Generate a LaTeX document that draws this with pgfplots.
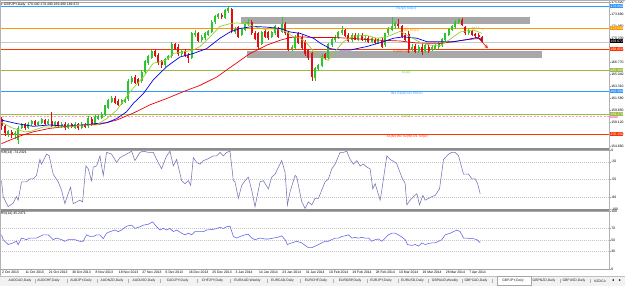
\documentclass[border=0pt]{standalone}
\usepackage{pgfplots}
\pgfplotsset{compat=1.18}
\usepackage{pgfplotstable}
\usepackage{fontspec}
\setmainfont{Liberation Sans}
\newcommand{\tf}{\fontsize{3.4}{4}\selectfont}

\definecolor{bull}{HTML}{2DC52D}
\definecolor{bear}{HTML}{DD1111}
\definecolor{fastma}{HTML}{9ACD32}
\definecolor{midma}{HTML}{0000EE}
\definecolor{slowma}{HTML}{EE0000}
\definecolor{pivblue}{HTML}{3399FF}
\definecolor{pivorange}{HTML}{FF9900}
\definecolor{pivred}{HTML}{FF3300}
\definecolor{pivgreen}{HTML}{99BB44}
\definecolor{pivpink}{HTML}{FF99CC}
\definecolor{zone}{HTML}{A8A8A8}
\definecolor{wprc}{HTML}{7373B8}
\definecolor{rsic}{HTML}{5F5FF0}
\definecolor{sepc}{HTML}{8C8C8C}

\pgfplotstableread{
i o h l c
0 158.6 158.9 157.0 157.5
1 157.5 157.7 156.1 156.5
2 156.4 157.0 155.9 156.8
3 156.7 156.9 155.8 156.2
4 156.2 156.8 155.7 156.6
5 155.5 157.5 155.0 157.3
6 157.3 158.0 157.1 157.8
7 157.8 158.0 157.0 157.3
8 157.3 158.1 157.1 157.9
9 157.8 158.4 157.6 158.2
10 158.2 158.4 157.5 157.7
11 157.7 158.3 157.5 158.1
12 158.0 158.7 157.8 158.5
13 158.4 158.6 157.7 157.9
14 157.9 158.5 157.7 158.3
15 158.3 159.5 157.4 157.6
16 157.6 158.3 157.4 158.1
17 158.1 158.3 157.3 157.5
18 157.5 158.1 157.3 157.9
19 157.9 158.1 157.0 157.3
20 157.3 158.0 157.1 157.8
21 157.8 158.0 157.2 157.4
22 157.3 158.1 157.1 157.9
23 157.8 158.0 156.9 157.2
24 157.3 158.1 157.1 157.9
25 157.8 158.0 157.2 157.4
26 157.5 159.0 157.3 158.7
27 158.6 158.8 157.6 157.8
28 157.9 159.1 157.7 158.9
29 158.6 159.2 158.4 159.0
30 158.7 159.5 158.5 159.3
31 159.2 160.6 159.0 160.5
32 160.2 161.5 160.0 161.3
33 161.0 161.9 160.8 161.6
34 161.6 161.8 160.7 160.9
35 161.1 161.4 160.4 160.6
36 160.7 161.5 160.5 161.3
37 161.0 161.7 160.8 161.5
38 161.4 164.3 161.2 164.1
39 163.9 164.7 163.6 164.5
40 164.6 164.9 163.6 163.8
41 164.3 164.5 163.3 163.6
42 164.0 165.6 163.8 165.4
43 165.3 167.1 165.0 166.9
44 166.6 167.8 166.4 167.6
45 167.4 168.5 167.2 168.3
46 168.4 168.6 167.5 167.7
47 167.8 168.0 166.4 166.6
48 166.9 167.1 165.9 166.3
49 166.3 167.4 166.1 167.2
50 167.2 167.8 167.0 167.6
51 167.6 169.7 167.4 169.4
52 169.3 169.5 168.5 168.7
53 169.0 169.3 167.7 167.9
54 167.9 168.6 167.7 168.4
55 168.4 168.6 167.5 167.7
56 167.8 168.0 166.6 167.3
57 167.4 171.1 167.2 170.9
58 170.6 171.4 170.4 170.9
59 170.9 171.1 169.6 169.8
60 169.9 170.6 169.7 170.4
61 170.2 171.1 170.0 170.9
62 170.7 171.4 170.5 171.2
63 171.1 172.8 170.9 172.6
64 172.5 173.6 172.3 173.4
65 173.2 173.9 173.0 173.7
66 173.6 173.8 173.0 173.2
67 173.1 174.4 172.9 174.3
68 174.1 174.8 173.9 174.5
69 174.4 174.6 170.9 171.2
70 171.1 171.8 170.8 171.6
71 171.8 172.0 170.2 170.4
72 170.7 171.7 170.5 171.5
73 171.4 172.5 171.2 172.3
74 172.2 172.9 172.0 172.6
75 172.6 172.8 170.7 170.9
76 171.0 171.2 169.9 170.1
77 170.9 171.1 168.7 169.0
78 169.4 171.3 169.2 171.1
79 171.3 171.5 170.2 170.4
80 171.1 171.3 170.0 170.2
81 170.4 171.3 170.2 171.1
82 170.9 172.1 170.7 171.9
83 171.6 171.8 170.2 170.4
84 171.1 173.3 170.9 172.2
85 172.3 172.5 170.7 170.9
86 171.0 171.2 168.4 168.5
87 168.7 169.2 168.4 169.0
88 168.8 170.6 168.6 170.4
89 170.9 171.1 169.3 169.5
90 170.4 170.6 168.6 168.8
91 169.7 169.9 167.7 167.9
92 168.5 168.7 167.1 167.3
93 168.0 168.2 164.1 164.6
94 164.5 166.1 164.0 165.9
95 165.8 166.5 165.5 166.3
96 166.2 167.9 166.0 167.7
97 167.9 168.1 167.1 167.3
98 167.4 169.5 167.2 169.3
99 169.2 170.3 168.9 170.1
100 170.0 170.6 169.7 170.4
101 170.3 171.3 170.1 171.1
102 170.9 171.9 170.7 171.4
103 171.4 171.6 170.4 170.5
104 170.6 170.9 169.6 169.8
105 169.9 170.9 169.7 170.7
106 170.6 170.9 169.9 170.0
107 170.0 170.9 169.8 170.6
108 170.7 171.0 169.8 170.0
109 169.9 170.5 169.6 170.3
110 170.2 170.5 169.5 169.7
111 169.7 170.4 169.5 170.2
112 170.0 170.3 169.3 169.5
113 169.5 170.3 169.3 170.1
114 170.0 170.2 168.8 169.0
115 169.2 171.0 169.0 170.9
116 170.9 171.8 170.6 171.6
117 171.4 173.3 171.2 172.0
118 171.9 172.6 171.6 172.4
119 172.3 172.9 171.7 171.9
120 171.9 172.1 170.2 170.4
121 170.6 171.0 169.8 170.0
122 170.8 171.2 168.1 168.6
123 168.7 169.3 168.4 169.0
124 169.1 169.4 168.0 168.2
125 168.4 169.2 168.1 169.0
126 168.9 169.3 167.8 168.2
127 168.3 169.4 168.1 169.2
128 169.0 169.3 168.1 168.3
129 168.5 169.2 168.3 169.0
130 168.7 169.4 168.5 169.2
131 168.9 169.6 168.7 169.4
132 169.2 170.3 169.0 170.1
133 169.9 171.0 169.7 170.9
134 170.7 171.7 170.5 171.5
135 171.4 172.1 171.2 171.9
136 171.8 172.8 171.6 172.6
137 172.5 173.0 172.2 172.9
138 172.8 173.1 171.9 172.1
139 171.8 172.0 170.7 170.9
140 170.9 171.5 170.6 171.3
141 171.2 171.4 170.5 170.7
142 170.8 171.0 170.3 170.5
143 170.6 170.9 170.2 170.4
144 170.44 170.49 169.49 169.672
}\candles

\begin{document}
\begin{tikzpicture}
\path[use as bounding box] (0pt,0pt) rectangle (625pt,286pt);
\fill[white] (0pt,0pt) rectangle (625pt,286pt);

% ===== main price panel =====
\begin{axis}[
  at={(0pt,284pt)}, anchor=north west, scale only axis,
  width=609pt, height=146pt,
  xmin=-0.45, xmax=182.1, ymin=154.373, ymax=175.422,
  xtick=\empty,
  ytick={154.66,156.39,158.12,159.85,161.58,163.31,165.04,166.77,168.50,170.23,171.96,173.69,175.42},
  yticklabels={154.660,156.390,158.120,159.850,161.580,163.310,165.040,166.770,168.500,170.230,171.960,173.690,175.420},
  ytick pos=right, yticklabel pos=right, tick align=outside, major tick length=1.5pt,
  axis line style={draw=gray!70, line width=0.4pt},
  tick style={draw=gray!80, line width=0.3pt},
  yticklabel style={font=\tf, text=black, inner sep=0.6pt, anchor=west},
  candle/.style={draw=none, mark=none, forget plot,
    error bars/y dir=plus, error bars/y explicit, error bars/error mark=none},
]
% zones
\fill[zone] (axis cs:71.8,173.26) rectangle (axis cs:158.4,172.25);
\fill[zone] (axis cs:73.6,168.40) rectangle (axis cs:162.0,167.30);
% pivot levels
\addplot[pivblue, line width=0.6pt, forget plot] coordinates {(-1,174.84) (183,174.84)};
\addplot[pivorange, line width=0.6pt, forget plot] coordinates {(-1,171.63) (183,171.63)};
\addplot[gray!45, line width=0.5pt, forget plot] coordinates {(-1,169.672) (183,169.672)};
\addplot[pivred, line width=0.6pt, forget plot] coordinates {(-1,168.65) (183,168.65)};
\addplot[pivgreen, line width=0.6pt, forget plot] coordinates {(-1,165.58) (183,165.58)};
\addplot[pivblue, line width=0.6pt, forget plot] coordinates {(-1,162.59) (183,162.59)};
\addplot[pivgreen, line width=0.6pt, forget plot] coordinates {(-1,159.27) (183,159.27)};
\addplot[pivpink, line width=0.5pt, dash pattern=on 2pt off 1.5pt, forget plot] coordinates {(-1,158.91) (183,158.91)};
\addplot[pivred, line width=0.6pt, forget plot] coordinates {(-1,156.39) (183,156.39)};
% pivot texts
\node[font=\tf, text=pivblue, anchor=north, inner sep=0.5pt] at (axis cs:121.3,174.84) {R1(W) R2(D)};
\node[font=\tf, text=pivorange, anchor=north, inner sep=0.5pt] at (axis cs:122.5,171.63) {P(M) R1(D)};
\node[font=\tf, text=pivred, anchor=north, inner sep=0.5pt] at (axis cs:120.0,168.65) {S1(W) P(D)};
\node[font=\tf, text=pivgreen, anchor=north, inner sep=0.5pt] at (axis cs:121.3,165.58) {S1(D)};
\node[font=\tf, text=pivblue, anchor=north, inner sep=0.5pt] at (axis cs:121.6,162.59) {W1 S1(W) D1 PIVOT};
\node[font=\tf, text=pivgreen, anchor=north, inner sep=0.5pt] at (axis cs:121.3,159.27) {S2(D)};
\node[font=\tf, text=pivred, anchor=north, inner sep=0.5pt] at (axis cs:121.6,156.39) {S1(M) W1 S2(W) D1 S3(D)};
% wicks
\addplot[candle, restrict expr to domain={\thisrow{c}-\thisrow{o}}{0:100},
  error bars/error bar style={draw=bull, line width=0.45pt}]
  table[x=i, y=l, y error expr=\thisrow{h}-\thisrow{l}] {\candles};
\addplot[candle, restrict expr to domain={\thisrow{c}-\thisrow{o}}{-100:-0.00001},
  error bars/error bar style={draw=bear, line width=0.45pt}]
  table[x=i, y=l, y error expr=\thisrow{h}-\thisrow{l}] {\candles};
% bodies
\addplot[candle, restrict expr to domain={\thisrow{c}-\thisrow{o}}{0:100},
  error bars/error bar style={draw=bull, line width=2pt}]
  table[x=i, y=o, y error expr=\thisrow{c}-\thisrow{o}] {\candles};
\addplot[candle, restrict expr to domain={\thisrow{c}-\thisrow{o}}{-100:-0.00001},
  error bars/error bar style={draw=bear, line width=2pt}]
  table[x=i, y=c, y error expr=\thisrow{o}-\thisrow{c}] {\candles};
% moving averages
\addplot[slowma, line width=0.7pt, mark=none] coordinates {
(0,155.0)(5.5,156.1)(9.5,156.7)(14.5,157.2)(19.5,157.5)(24.5,157.7)(29.5,157.8)(34.5,158.4)(39.5,159.4)(44.5,160.6)(49.5,161.5)(54.5,162.5)(59.5,163.4)(64.5,164.6)(69.5,166.3)(74.5,168.0)(77.5,168.7)(79.5,169.2)(83.5,169.9)(86.5,170.3)(89.5,170.4)(93.5,170.3)(99.5,170.3)(104.5,170.2)(109.5,170.0)(114.5,169.9)(119.5,169.8)(124.5,169.5)(131.5,169.45)(135.5,169.7)(139.5,170.0)(144,170.2)};
\addplot[midma, line width=0.7pt, mark=none] coordinates {
(0,158.4)(4.5,157.9)(9.5,157.5)(14.5,157.7)(19.5,157.5)(24.5,157.7)(28.5,157.9)(31.5,158.0)(34.5,158.6)(37.5,159.6)(39.5,160.8)(42.5,162.2)(45.5,164.2)(49.5,166.1)(53.5,167.5)(57.5,168.0)(61.5,168.7)(65.5,170.2)(68.5,171.1)(71.5,171.6)(75.5,171.9)(79.5,171.8)(83.5,171.6)(86.5,171.1)(89.5,170.9)(93.5,170.2)(95.5,169.5)(98.5,168.7)(101.5,168.5)(104.5,168.5)(109.5,169.0)(114.5,169.7)(117.5,170.2)(120.5,170.4)(124.5,170.2)(127.5,169.7)(131.5,169.7)(135.5,169.7)(139.5,170.0)(142.5,170.3)(144,169.9)};
\addplot[fastma, line width=0.7pt, mark=none] coordinates {
(0,158.1)(3,157.3)(7,156.7)(9,156.8)(12.5,157.4)(19.5,157.4)(24.5,157.7)(28.5,157.7)(31.5,158.6)(34.5,159.8)(37.5,161.8)(39.5,163.0)(42.5,164.6)(45.5,166.6)(47.5,166.8)(49.5,167.1)(51.5,168.0)(55.5,168.3)(57.5,168.5)(59.5,169.0)(61.5,169.9)(63.5,170.9)(65.5,171.9)(68.5,172.3)(70.5,172.4)(73.5,172.3)(75.5,171.9)(79.5,171.4)(83.5,171.4)(85.5,171.1)(87.5,170.4)(89.5,170.2)(91.5,169.5)(93.5,168.3)(95.5,167.5)(98,167.0)(100,168.3)(102.5,169.7)(105.5,170.5)(109.5,170.6)(112.5,170.2)(115.5,170.4)(119.5,171.2)(122.5,170.4)(125.5,169.6)(128.5,169.2)(131.5,169.1)(134,169.9)(137.5,171.1)(141.5,171.4)(144,170.9)};
\addplot[fastma, line width=0.5pt, dash pattern=on 1pt off 1pt, mark=none] coordinates {(139.5,171.3)(141,171.75)(143,171.8)(144.5,171.35)};
\draw[bear, line width=0.6pt, -stealth] (axis cs:142.8,170.3) -- (axis cs:145.8,168.75);
\node[font=\tf, anchor=north west, inner sep=0.4pt] at (rel axis cs:0,1) {\fontsize{2.6}{3}\selectfont▼\ \tf GBPJPY,Daily\ \ 170.440 170.490 169.490 169.672};
\end{axis}

% ===== Williams %R panel =====
\begin{axis}[
  at={(0pt,136pt)}, anchor=north west, scale only axis,
  width=609pt, height=59pt,
  xmin=-0.45, xmax=182.1, ymin=-100, ymax=0,
  xtick=\empty,
  ytick={-100,-80,-50,-20,0}, yticklabels={-100,-80,-50,-20,0},
  ytick pos=right, yticklabel pos=right, tick align=outside, major tick length=1.5pt,
  ymajorgrids, grid style={gray!45, line width=0.4pt, dash pattern=on 1pt off 1pt},
  axis line style={draw=gray!70, line width=0.4pt},
  tick style={draw=gray!80, line width=0.3pt},
  yticklabel style={font=\tf, text=black, inner sep=0.6pt, anchor=west},
]
\addplot[wprc, line width=0.55pt, mark=none] coordinates {
(0,-52)(0.5,-79)(2,-96)(3.5,-90)(4.5,-79)(5,-85)(6,-54)(7.5,-54)(8.5,-49)(9.5,-49)(10.5,-43)(11.5,-16)(12,-24)(13.5,-7)(14.3,-10)(15.5,-41)(17,-54)(18,-68)(19,-91)(20,-74)(20.7,-63)(21.5,-91)(22.5,-88)(23.5,-85)(24.3,-88)(25.3,-27)(26,-32)(27,-52)(27.5,-29)(28.5,-27)(29.5,-10)(30,-27)(30.5,-43)(31.5,-4)(33,-7)(34.5,-21)(35.5,-13)(37.5,-7)(39,-2)(40,-18)(41.5,-4)(42.5,-2)(44,-4)(45.5,-4)(46.5,-16)(48,-32)(48.5,-24)(49.5,-10)(50.5,-2)(51.5,-27)(52.5,-16)(54,-52)(55,-57)(56,-52)(56.7,-60)(57.5,-13)(58.5,-21)(59.5,-24)(60.5,-18)(61.5,-16)(63.5,-10)(64.5,-10)(65.5,-4)(66.5,-10)(67.5,-4)(68.5,-2)(69.5,-52)(70,-54)(71,-82)(72,-60)(73,-52)(74,-46)(75,-68)(76,-96)(77.5,-54)(78.5,-52)(80,-66)(81,-46)(82,-41)(83,-29)(84,-18)(85,-38)(85.7,-93)(86.5,-71)(88,-43)(88.5,-46)(90,-88)(91,-99)(92,-88)(93,-93)(94,-82)(95,-82)(96,-68)(97,-54)(98,-49)(99,-32)(100,-24)(101.5,-4)(102.5,-4)(103.5,-2)(104.5,-16)(105.5,-24)(106.5,-18)(107.5,-27)(108.5,-24)(109.5,-29)(110.5,-32)(111.3,-66)(112,-57)(113.5,-85)(114,-68)(115.5,-10)(116.5,-16)(118,-21)(118.5,-24)(120,-46)(121,-57)(121.5,-93)(122.5,-85)(123.5,-79)(124.5,-74)(125.3,-93)(126.3,-77)(127,-85)(128,-82)(129,-79)(130,-77)(131.3,-66)(132.5,-16)(134,-7)(135,-4)(136,-4)(137,-10)(138.5,-41)(140,-41)(141,-49)(142,-49)(142.7,-57)(143.5,-74.23)};
\node[font=\tf, anchor=north west, inner sep=0.6pt] at (rel axis cs:0,1) {\%R(14) -74.2321};
\end{axis}

% ===== RSI panel =====
\begin{axis}[
  at={(0pt,75pt)}, anchor=north west, scale only axis,
  width=609pt, height=58pt,
  xmin=-0.45, xmax=182.1, ymin=0, ymax=100,
  xtick={0,7,...,140},
  xticklabels={2 Oct 2013,11 Oct 2013,21 Oct 2013,30 Oct 2013,8 Nov 2013,18 Nov 2013,27 Nov 2013,6 Dec 2013,16 Dec 2013,25 Dec 2013,3 Jan 2014,14 Jan 2014,23 Jan 2014,31 Jan 2014,10 Feb 2014,19 Feb 2014,28 Feb 2014,10 Mar 2014,19 Mar 2014,28 Mar 2014,7 Apr 2014},
  xtick pos=bottom,
  xticklabel style={font=\tf, text=black, anchor=north west, inner sep=0.5pt},
  ytick={0,30,50,70,100}, yticklabels={0,30,50,70,100},
  ytick pos=right, yticklabel pos=right, tick align=outside, major tick length=1.5pt,
  ymajorgrids, grid style={gray!45, line width=0.4pt, dash pattern=on 1pt off 1pt},
  axis line style={draw=gray!70, line width=0.4pt},
  tick style={draw=gray!80, line width=0.3pt},
  yticklabel style={font=\tf, text=black, inner sep=0.6pt, anchor=west},
]
\addplot[rsic, line width=0.55pt, mark=none] coordinates {
(0,58.9)(0.5,50.6)(2,42.2)(3.5,45)(4.5,47.8)(5,42.2)(6,53.3)(7.5,50.6)(8.5,53.3)(10.5,53.3)(11.5,56.1)(12.5,58.9)(14,58.9)(14.5,56.1)(15.5,50.6)(16.5,53.3)(18,50.6)(19,47.8)(20,50.6)(22,50.6)(23.5,47.8)(24.5,47.8)(25.5,58.9)(26.5,56.1)(27.5,56.1)(28.5,58.9)(29.5,58.9)(30.5,52.2)(31.5,61.7)(32.5,64.4)(34,67.2)(35,64.4)(36,67.2)(37.5,73.9)(39,75.6)(40,70)(41.5,72.8)(42.5,75.6)(44,77.2)(45.3,81.1)(46.5,72.8)(47.5,67.2)(48.5,70)(49.5,67.2)(50.5,70)(51.5,64.4)(52.5,67.2)(54,61.7)(55,58.9)(56,61.7)(57,58.9)(58,64.4)(59.5,64.4)(60.5,64.4)(61.5,67.2)(63.5,68.3)(64.5,70)(65.5,71.7)(66.5,70)(67.5,72.8)(68.5,73.9)(69.5,56.1)(70.5,53.3)(71.5,56.1)(73,58.9)(74,60)(75,53.3)(76,50.6)(77.5,53.3)(79,51.7)(80,51.7)(81.5,53.3)(83,55)(84,57.2)(85,50.6)(85.7,42.2)(87,45)(88.5,47.8)(90,45)(91,40.6)(92,36.7)(93,36.7)(94,39.4)(95,42.2)(96,45)(97,47.8)(98,47.8)(99,50.6)(100,53.3)(101,53.3)(102,56.1)(103,57.2)(104,58.9)(105,53.3)(106,54.4)(107,53.3)(108,54.4)(109,53.3)(110,53.3)(111,47.8)(112,50.6)(113,51.7)(114,47.8)(115,53.3)(116,58.9)(117,61.7)(118,61.7)(119,58.9)(120,55)(121,50.6)(121.7,42.2)(123,40.6)(124,42.2)(125,39.4)(126,45)(127,42.2)(128,43.9)(129,45)(130,45)(131,47.8)(132,50.6)(133,58.9)(134.5,61.7)(135.5,64.4)(136.5,67.2)(137.5,64.4)(138.5,53.3)(139.5,53.3)(140.5,52.2)(141.5,52.2)(142.5,50.6)(143.5,45.25)};
\node[font=\tf, anchor=north west, inner sep=0.6pt] at (rel axis cs:0,1) {RSI(14) 45.2471};
\end{axis}

% panel separators
\draw[sepc, line width=2pt] (0pt,137pt) -- (609pt,137pt);
\draw[sepc, line width=2pt] (0pt,76pt) -- (609pt,76pt);
\draw[gray!60, line width=0.4pt] (609pt,17pt) -- (609pt,286pt);
\draw[gray!60, line width=0.4pt] (0.2pt,10pt) -- (0.2pt,285.8pt) -- (624.8pt,285.8pt);

% coloured price labels on the right scale
\tikzset{plab/.style={font=\tf, text=white, inner sep=0.5pt, anchor=west, minimum height=4.4pt}}
\node[plab, fill=pivblue] at (610pt,280pt) {174.840};
\node[plab, fill=pivorange] at (610pt,257.7pt) {171.630};
\node[plab, fill=black] at (610pt,245pt) {169.672};
\node[plab, fill=pivred] at (610pt,237pt) {168.650};
\node[plab, fill=pivgreen] at (610pt,215.7pt) {165.580};
\node[plab, fill=pivblue] at (610pt,195pt) {162.590};
\node[plab, fill=pivpink, minimum height=2pt, inner sep=0.3pt, text=white] at (610pt,169.5pt) {\fontsize{2}{2}\selectfont 158.910};
\node[plab, fill=pivgreen] at (610pt,172pt) {159.270};
\node[plab, fill=pivred] at (610pt,152pt) {156.390};

% tab bar
\fill[gray!10] (0pt,0pt) rectangle (625pt,10pt);
\draw[gray!50, line width=0.3pt] (0pt,10pt) -- (625pt,10pt);
\filldraw[fill=white, draw=gray!70, line width=0.3pt] (497pt,0.6pt) rectangle (531pt,9.6pt);
\foreach \sx in {35,67,97,128,160,197,230,267,300,333,367,398,428,462,492,560,590}
  \draw[gray!60, line width=0.3pt] (\sx pt,3pt) -- (\sx pt,7pt);
\foreach \cx/\lab in {20/AUDCAD{,}Daily, 48.5/AUDCHF{,}Daily, 81/AUDJPY{,}Daily, 112/AUDNZD{,}Daily, 144/AUDUSD{,}Daily, 177.5/CADJPY{,}Daily, 212.5/CHFJPY{,}Daily, 247.5/EURAUD{,}Weekly, 282.5/EURCAD{,}Daily, 316/EURCHF{,}Daily, 350/EURGBP{,}Daily, 381/EURJPY{,}Daily, 412.5/EURUSD{,}Daily, 445/GBPAUD{,}Weekly, 476/GBPCAD{,}Daily, 513/GBPJPY{,}Daily, 544/GBPNZD{,}Daily, 574/GBPUSD{,}Daily}
  \node[font=\tf, text=black!85, inner sep=0pt] at (\cx pt,5pt) {\lab};
\node[font=\tf, text=black!85, inner sep=0pt, anchor=west] at (594pt,5pt) {NZDCA};
\node[font=\tf, inner sep=0pt] at (613pt,5pt) {◄};
\node[font=\tf, inner sep=0pt] at (620pt,5pt) {►};
\end{tikzpicture}
\end{document}
